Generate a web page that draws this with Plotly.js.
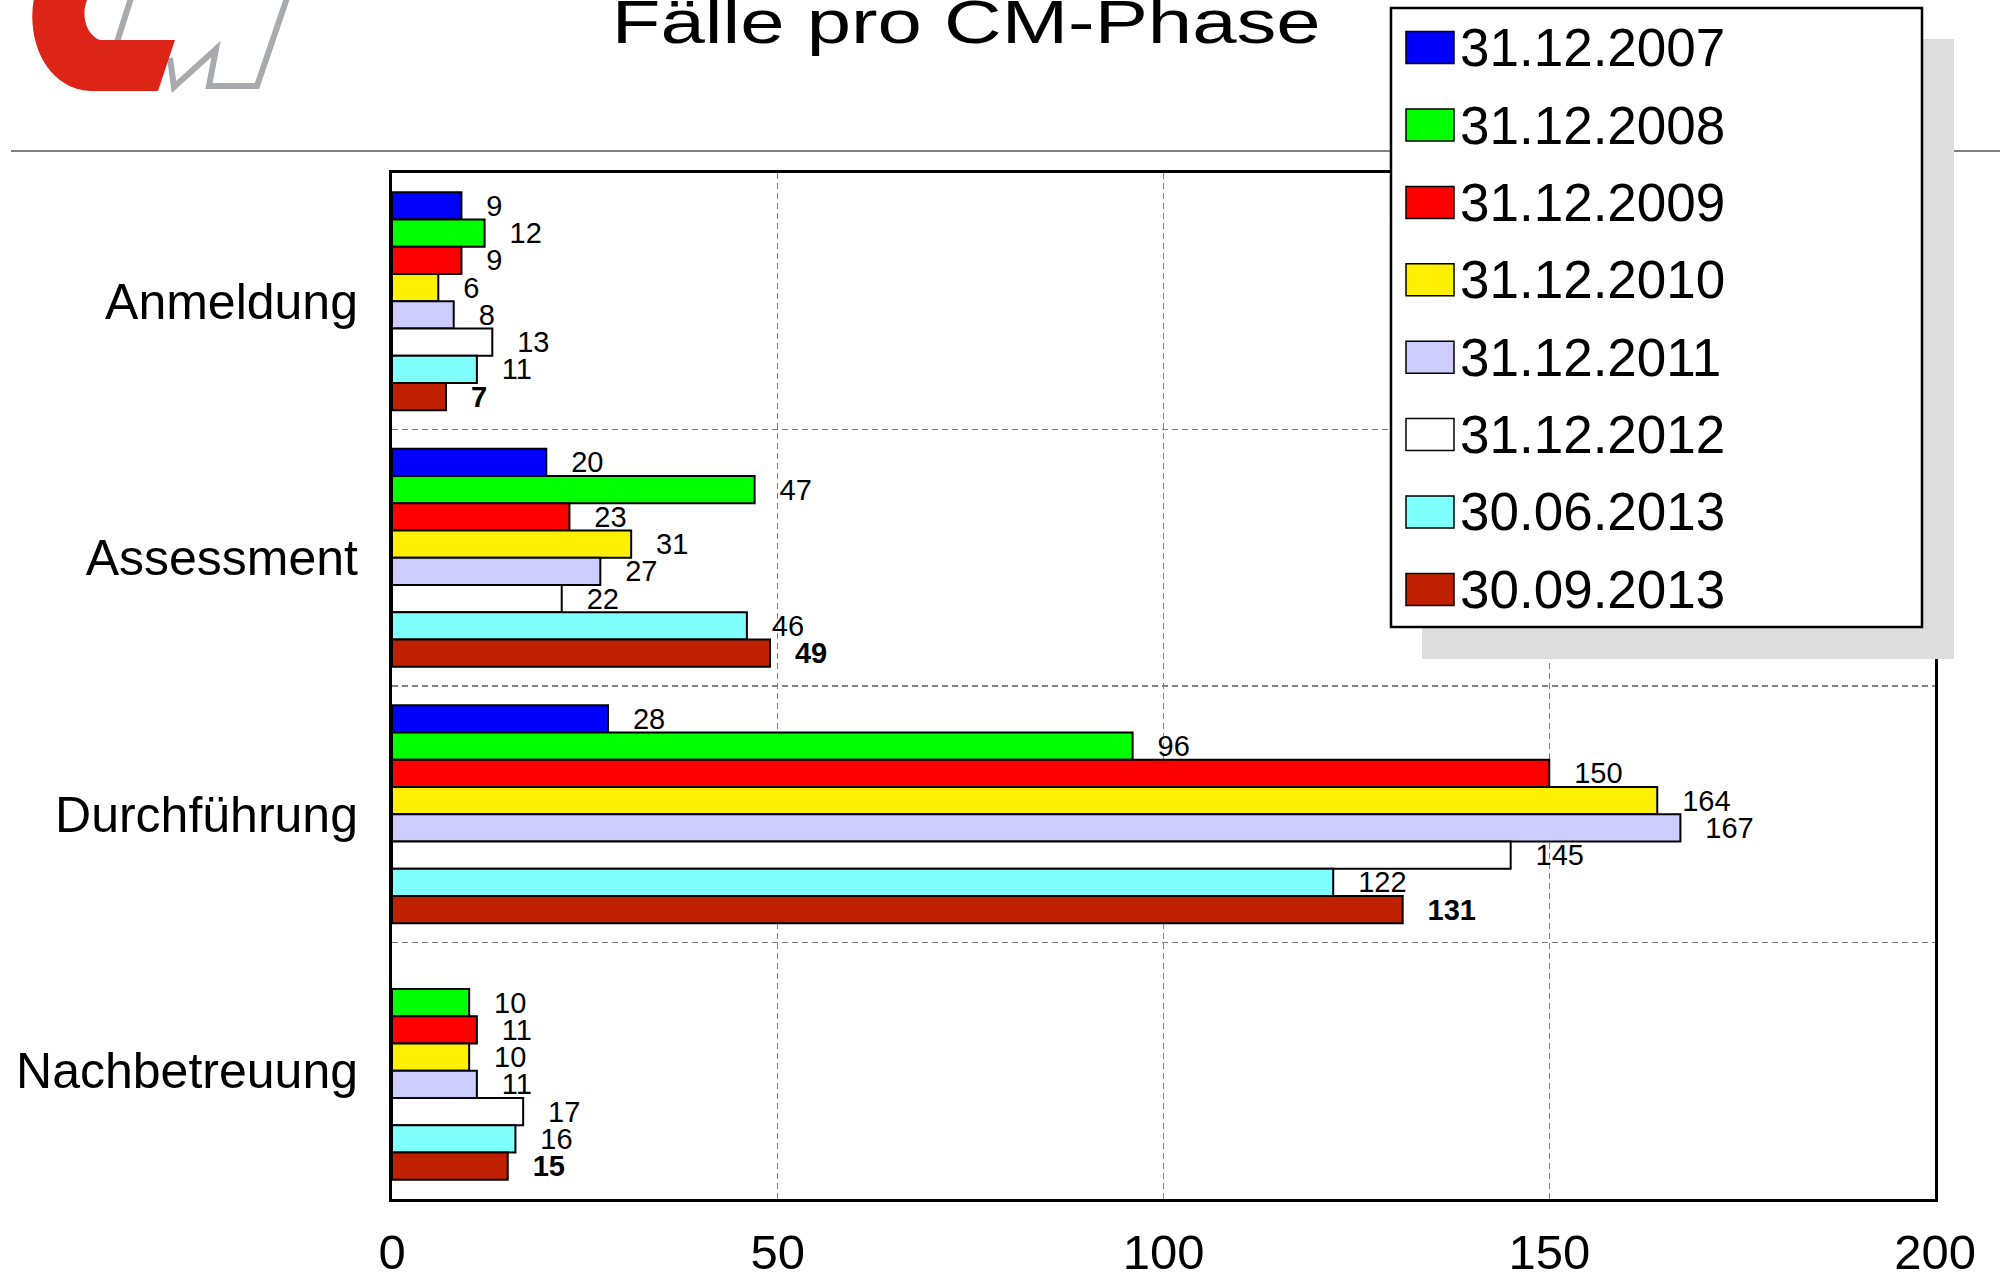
<!DOCTYPE html>
<html>
<head>
<meta charset="utf-8">
<script src="https://cdn.plot.ly/plotly-3.0.1.min.js"></script>
<style>
  html, body { margin: 0; padding: 0; background: #ffffff; }
  #chart { width: 2000px; height: 1273px; }
</style>
</head>
<body>
<div id="chart"></div>
<script>
// ---------------- data ----------------
const categories = ['Anmeldung', 'Assessment', 'Durchführung', 'Nachbetreuung'];
const seriesNames = ['31.12.2007', '31.12.2008', '31.12.2009', '31.12.2010',
                     '31.12.2011', '31.12.2012', '30.06.2013', '30.09.2013'];
const s2007 = [9, 20, 28, null];
const s2008 = [12, 47, 96, 10];
const s2009 = [9, 23, 150, 11];
const s2010 = [6, 31, 164, 10];
const s2011 = [8, 27, 167, 11];
const s2012 = [13, 22, 145, 17];
const s2013a = [11, 46, 122, 16];
const s2013b = [7, 49, 131, 15];
const seriesValues = [s2007, s2008, s2009, s2010, s2011, s2012, s2013a, s2013b];
const seriesColors = ['#0000ff', '#00ff00', '#ff0000', '#fff000',
                      '#ccccff', '#ffffff', '#80ffff', '#bf2000'];
const xTicks = [0, 50, 100, 150, 200];
const chartTitle = 'Fälle pro CM-Phase';

// ---------------- layout geometry (pixels) ----------------
const L = 392, R = 1935, T = 173, B = 1199;
const W = R - L, H = B - T;
const px = X => (X - L) / W;
const py = Y => (B - Y) / H;
const FONT = 'Liberation Sans, Arial, Helvetica, sans-serif';
const GAP = '\u00A0\u00A0\u2009';

// ---------------- traces ----------------
const traces = seriesNames.map((name, i) => ({
  type: 'bar',
  orientation: 'h',
  name: name,
  y: categories,
  x: seriesValues[i],
  marker: { color: seriesColors[i], line: { color: '#000000', width: 2 } },
  texttemplate: i === seriesNames.length - 1 ? GAP + '<b>%{x}</b>' : GAP + '%{x}',
  textposition: 'outside',
  constraintext: 'none',
  cliponaxis: false,
  textfont: { family: FONT, size: 29, color: '#000000' },
  hoverinfo: 'skip'
}));

// ---------------- helpers for path shapes ----------------
function pathFrom(cmds) {
  return cmds.map(c => {
    const nums = [];
    for (let k = 1; k < c.length; k += 2) {
      nums.push(px(c[k]).toFixed(5) + ',' + py(c[k + 1]).toFixed(5));
    }
    return c[0] + ' ' + nums.join(' ');
  }).join(' ');
}

const shapes = [];
const annotations = [];

// logo: grey strokes
shapes.push({
  type: 'path', xref: 'paper', yref: 'paper', layer: 'above',
  path: pathFrom([['M', 131, -2], ['L', 117, 42]]),
  line: { color: '#a9aaad', width: 6 }
});
shapes.push({
  type: 'path', xref: 'paper', yref: 'paper', layer: 'above',
  path: pathFrom([['M', 170, 58], ['L', 174, 87], ['L', 216, 49], ['L', 209, 86],
                  ['L', 257, 86], ['L', 287, -2]]),
  line: { color: '#a9aaad', width: 6 }
});
// logo: red C
shapes.push({
  type: 'path', xref: 'paper', yref: 'paper', layer: 'above',
  path: pathFrom([['M', 34, -2], ['C', 26, 40, 46, 88, 90, 91], ['L', 158, 91],
                  ['L', 175, 40], ['L', 100, 40], ['C', 86, 35, 80, 14, 88, -2]]) + ' Z',
  fillcolor: '#dc2516', line: { width: 0 }
});

// separator line
shapes.push({
  type: 'line', xref: 'paper', yref: 'paper', layer: 'above',
  x0: px(11), x1: px(2000), y0: py(151), y1: py(151),
  line: { color: '#555555', width: 1.5 }
});

// legend: shadow, box, swatches, labels
shapes.push({
  type: 'rect', xref: 'paper', yref: 'paper', layer: 'above',
  x0: px(1422), x1: px(1954), y0: py(39), y1: py(659),
  fillcolor: '#dddddd', line: { width: 0 }
});
shapes.push({
  type: 'rect', xref: 'paper', yref: 'paper', layer: 'above',
  x0: px(1391), x1: px(1922), y0: py(8), y1: py(627),
  fillcolor: '#ffffff', line: { color: '#000000', width: 2.5 }
});
seriesNames.forEach((name, i) => {
  const cy = 47.6 + 77.4 * i;
  shapes.push({
    type: 'rect', xref: 'paper', yref: 'paper', layer: 'above',
    x0: px(1406), x1: px(1454), y0: py(cy + 16), y1: py(cy - 16),
    fillcolor: seriesColors[i], line: { color: '#000000', width: 1.5 }
  });
  annotations.push({
    xref: 'paper', yref: 'paper', x: px(1458), y: py(cy),
    xanchor: 'left', yanchor: 'middle', showarrow: false,
    text: name, font: { family: FONT, size: 53, color: '#000000' }
  });
});

// title
const TITLE_SIZE = 61;
annotations.push({
  xref: 'paper', yref: 'paper', x: px(966), y: py(43 - 0.3465 * TITLE_SIZE),
  xanchor: 'center', yanchor: 'middle', showarrow: false,
  text: chartTitle, font: { family: FONT, size: TITLE_SIZE, color: '#000000' }
});

const layout = {
  width: 2000, height: 1273,
  margin: { l: L, r: 2000 - R, t: T, b: 1273 - B, pad: 0 },
  paper_bgcolor: '#ffffff', plot_bgcolor: '#ffffff',
  barmode: 'group', bargap: 0.15, bargroupgap: 0,
  showlegend: false,
  font: { family: FONT, color: '#000000' },
  xaxis: {
    range: [0, 200], tickvals: xTicks, ticktext: xTicks.map(String),
    tickfont: { family: FONT, size: 49, color: '#000000' },
    ticks: '', ticklabelstandoff: 8,
    showgrid: true, gridcolor: '#808080', gridwidth: 1.4, griddash: '6px,4px',
    zeroline: false, showline: true, linecolor: '#000000', linewidth: 3, mirror: true,
    fixedrange: true
  },
  yaxis: {
    type: 'category', categoryorder: 'array', categoryarray: categories,
    autorange: 'reversed', tickson: 'boundaries',
    tickfont: { family: FONT, size: 50, color: '#000000' },
    ticks: '', ticklabelstandoff: 21,
    showgrid: true, gridcolor: '#808080', gridwidth: 1.4, griddash: '6px,4px',
    zeroline: false, showline: true, linecolor: '#000000', linewidth: 3, mirror: true,
    fixedrange: true
  },
  shapes: shapes,
  annotations: annotations
};

Plotly.newPlot('chart', traces, layout, { displayModeBar: false, staticPlot: true }).then(() => {
  document.querySelectorAll('.annotation-text').forEach(t => {
    if (t.textContent === chartTitle) {
      t.setAttribute('textLength', '709');
      t.setAttribute('lengthAdjust', 'spacingAndGlyphs');
    }
  });
});
</script>
</body>
</html>
